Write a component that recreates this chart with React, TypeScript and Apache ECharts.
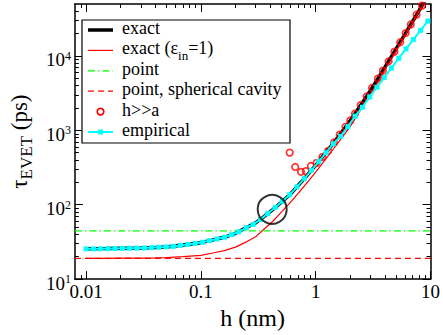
import React, { useEffect, useRef } from 'react';
import * as echarts from 'echarts';

// h (nm) grid of the smooth curves
const hCurve = [0.01, 0.015, 0.02, 0.03, 0.04, 0.05, 0.07, 0.1, 0.13, 0.16, 0.2, 0.25, 0.3, 0.35, 0.42, 0.5, 0.6, 0.7, 0.8, 0.9, 1, 1.2, 1.4, 1.6, 1.8, 2, 2.5, 3, 3.5, 4, 5, 6, 7, 8, 9, 10];
// exact (black)
const tauExact = [25.5, 25.7, 25.9, 26.1, 26.6, 27.1, 28.7, 30.9, 33.9, 36.5, 41.3, 49.5, 57, 68, 85, 107, 138, 180, 226, 280, 339, 482, 649, 853, 1086, 1356, 2249, 3444, 5035, 7000, 12330, 19630, 29300, 41500, 56200, 74100];
// exact (eps_in = 1) (red, thin)
const tauExactEps1 = [19.0, 19.05, 19.1, 19.2, 19.3, 19.45, 20.0, 20.9, 22.6, 24.1, 26.9, 31.7, 37, 46, 59, 79, 107, 141, 180, 225, 275, 396, 540, 711, 906, 1127, 1959, 3069, 4487, 6531, 11670, 18840, 28380, 40550, 55000, 72400];
// point (constant)
const hPoint = [0.008, 10];
const tauPoint = [44.5, 44.5];
// point, spherical cavity (constant)
const hSphere = [0.008, 10];
const tauSphere = [19.0, 19.0];
// h >> a (red circles)
const hHa = [0.594, 0.663, 0.745, 0.82, 0.908, 1.019, 1.145, 1.284, 1.442, 1.619, 1.817, 2.0, 2.2, 2.47, 2.78, 3.1, 3.48, 3.85, 4.32, 4.85, 5.45, 6.08, 6.73, 7.56, 8.44];
const tauHa = [502, 322, 277, 283, 332, 365, 440, 530, 687, 875, 1114, 1358, 1679, 2193, 2858, 3724, 4977, 6353, 8490, 11430, 15300, 20340, 26500, 35900, 47600];
// empirical (cyan squares)
const hEmp = [0.01, 0.0116, 0.0134, 0.0155, 0.0179, 0.0207, 0.024, 0.0278, 0.0321, 0.0372, 0.043, 0.0498, 0.0576, 0.0666, 0.0771, 0.0892, 0.103, 0.119, 0.138, 0.16, 0.185, 0.214, 0.248, 0.286, 0.331, 0.383, 0.444, 0.513, 0.594, 0.687, 0.795, 0.92, 1.064, 1.231, 1.424, 1.648, 1.907, 2.206, 2.553, 2.953, 3.417, 3.954, 4.575, 5.293, 6.124, 7.086, 8.199, 9.487];
const tauEmp = [25.5, 25.5, 25.6, 25.7, 25.8, 25.9, 26.0, 26.1, 26.2, 26.5, 26.8, 27.1, 27.6, 28.4, 29.3, 30.2, 31.3, 32.9, 34.6, 36.5, 39.5, 43.3, 49.0, 54.5, 63.5, 76, 92, 111, 136, 174, 224, 290, 380, 501, 661, 832, 1122, 1549, 2042, 2818, 3802, 5129, 6918, 9333, 12450, 16600, 22130, 29510];
// highlighted point (black ring)
const markH = [0.418];
const markTau = [86.6];

// axes
const X_MIN = 0.008, X_MAX = 10, Y_MIN = 10, Y_MAX = 50000;
const xMajorTicks = [0.01, 0.1, 1, 10];
const xTickLabels = ['0.01', '0.1', '1', '10'];
const xMinorTicks = [0.009, 0.02, 0.03, 0.04, 0.05, 0.06, 0.07, 0.08, 0.09, 0.2, 0.3, 0.4, 0.5, 0.6, 0.7, 0.8, 0.9, 2, 3, 4, 5, 6, 7, 8, 9];
const yMajorTicks = [10, 100, 1000, 10000];
const yMinorTicks = [20, 30, 40, 50, 60, 70, 80, 90, 200, 300, 400, 500, 600, 700, 800, 900, 2000, 3000, 4000, 5000, 6000, 7000, 8000, 9000, 20000, 30000, 40000];

const legendNames = ['exact', 'exact (ε{sub|in}=1)', 'point', 'point, spherical cavity', 'h>>a', 'empirical'];

const FONT = 'Liberation Serif';

const zip = (a: number[], b: number[]) => a.map((v, i) => [v, b[i]]);

export default function App() {
  const ref = useRef<HTMLDivElement>(null);
  useEffect(() => {
    if (!ref.current) return;
    const chart = echarts.init(ref.current, undefined, { renderer: 'svg' });

    const mkX = (pos: 'bottom' | 'top', major: boolean, withLabels: boolean) => ({
      type: 'log', logBase: 10, min: X_MIN, max: X_MAX, position: pos, gridIndex: 0,
      axisLine: { show: major, onZero: false, lineStyle: { color: '#000', width: 1.5 } },
      axisTick: { show: true, inside: true, length: major ? 8 : 4, customValues: major ? xMajorTicks : xMinorTicks, lineStyle: { color: '#000', width: 1 } },
      axisLabel: withLabels ? {
        show: true, customValues: xMajorTicks, margin: 3, fontSize: 19, fontFamily: FONT, color: '#000',
        formatter: (v: number) => {
          let best = 0;
          xMajorTicks.forEach((t, i) => { if (Math.abs(Math.log10(t) - Math.log10(v)) < Math.abs(Math.log10(xMajorTicks[best]) - Math.log10(v))) best = i; });
          return xTickLabels[best];
        },
      } : { show: false },
      splitLine: { show: false },
      minorTick: { show: false },
      ...(withLabels ? { name: 'h (nm)', nameLocation: 'middle', nameGap: 20, nameTextStyle: { fontSize: 24, fontFamily: FONT, color: '#000' } } : {}),
    });

    const mkY = (pos: 'left' | 'right', major: boolean, withLabels: boolean) => ({
      type: 'log', logBase: 10, min: Y_MIN, max: Y_MAX, position: pos, gridIndex: 0,
      axisLine: { show: major, onZero: false, lineStyle: { color: '#000', width: 1.5 } },
      axisTick: { show: true, inside: true, length: major ? 8 : 4, customValues: major ? yMajorTicks : yMinorTicks, lineStyle: { color: '#000', width: 1 } },
      axisLabel: withLabels ? {
        show: true, customValues: yMajorTicks, margin: 4, fontSize: 19, fontFamily: FONT, color: '#000',
        formatter: (v: number) => `{b|10}{s|${Math.round(Math.log10(v))}}`,
        rich: {
          b: { fontSize: 19, fontFamily: FONT, color: '#000', padding: [8, 0, 0, 0] },
          s: { fontSize: 12, fontFamily: FONT, color: '#000' },
        },
      } : { show: false },
      splitLine: { show: false },
      minorTick: { show: false },
      ...(withLabels ? {
        name: '{t|τ}{sub|EVET}{t| (ps)}', nameLocation: 'middle', nameGap: 31,
        nameTextStyle: {
          fontSize: 23, fontFamily: FONT, color: '#000',
          rich: {
            t: { fontSize: 23, fontFamily: FONT, color: '#000' },
            sub: { fontSize: 17, fontFamily: FONT, color: '#000', padding: [14, 0, 0, 0] },
          },
        },
      } : {}),
    });

    const rowY = (i: number) => 30 + i * 20.4;
    const lx1 = 88, lx2 = 113, tx = 122;
    const legendGraphics: any[] = [
      { type: 'rect', z: 100, shape: { x: 82, y: 20, width: 208, height: 123 }, style: { fill: '#fff', stroke: '#000', lineWidth: 1.2 } },
      { type: 'line', z: 101, shape: { x1: lx1, y1: rowY(0), x2: lx2, y2: rowY(0) }, style: { stroke: '#000', lineWidth: 3.5 } },
      { type: 'line', z: 101, shape: { x1: lx1, y1: rowY(1), x2: lx2, y2: rowY(1) }, style: { stroke: '#ff0000', lineWidth: 1.2 } },
      { type: 'line', z: 101, shape: { x1: lx1, y1: rowY(2), x2: lx2, y2: rowY(2) }, style: { stroke: '#00ff00', lineWidth: 1.2, lineDash: [7, 3, 1.5, 3] } },
      { type: 'line', z: 101, shape: { x1: lx1, y1: rowY(3), x2: lx2, y2: rowY(3) }, style: { stroke: '#ff0000', lineWidth: 1.2, lineDash: [6, 4] } },
      { type: 'circle', z: 101, shape: { cx: 100.5, cy: rowY(4), r: 3.3 }, style: { fill: 'none', stroke: '#ff0000', lineWidth: 1.7 } },
      { type: 'line', z: 101, shape: { x1: lx1, y1: rowY(5), x2: lx2, y2: rowY(5) }, style: { stroke: '#00ffff', lineWidth: 2 } },
      { type: 'rect', z: 102, shape: { x: 98, y: rowY(5) - 2.5, width: 5, height: 5 }, style: { fill: '#00ffff' } },
    ];
    legendNames.forEach((name, i) => {
      const style: any = { text: name, fontSize: 18, fontFamily: FONT, fill: '#000', verticalAlign: 'middle', align: 'left' };
      if (name.indexOf('{') >= 0) {
        style.rich = { sub: { fontSize: 13, fontFamily: FONT, fill: '#000', padding: [14, 0, 0, 0] } };
      }
      legendGraphics.push({ type: 'text', z: 103, x: tx, y: rowY(i) - 2, style });
    });

    chart.setOption({
      animation: false,
      backgroundColor: '#fff',
      grid: { left: 62, right: 11, top: 4, bottom: 44, containLabel: false },
      xAxis: [mkX('bottom', true, true), mkX('bottom', false, false), mkX('top', true, false), mkX('top', false, false)],
      yAxis: [mkY('left', true, true), mkY('left', false, false), mkY('right', true, false), mkY('right', false, false)],
      series: [
        { name: 'exact', type: 'line', data: zip(hCurve, tauExact), symbol: 'none', lineStyle: { color: '#000', width: 3.5 }, z: 2 },
        { name: 'exact (ε_in=1)', type: 'line', data: zip(hCurve, tauExactEps1), symbol: 'none', lineStyle: { color: '#ff0000', width: 1.2 }, z: 3 },
        { name: 'point', type: 'line', data: zip(hPoint, tauPoint), symbol: 'none', lineStyle: { color: '#00ff00', width: 1.2, type: [7, 3, 1.5, 3] }, z: 3 },
        { name: 'point, spherical cavity', type: 'line', data: zip(hSphere, tauSphere), symbol: 'none', lineStyle: { color: '#ff0000', width: 1.2, type: [6, 4] }, z: 3 },
        { name: 'h>>a', type: 'scatter', data: zip(hHa, tauHa), symbol: 'circle', symbolSize: 6.5, itemStyle: { color: 'rgba(0,0,0,0)', borderColor: '#ff0000', borderWidth: 1.7 }, z: 4 },
        { name: 'empirical', type: 'line', data: zip(hEmp, tauEmp), symbol: 'rect', symbolSize: 5, showSymbol: true, showAllSymbol: true, itemStyle: { color: '#00ffff' }, lineStyle: { color: '#00ffff', width: 2 }, z: 5 },
        { name: 'mark', type: 'scatter', data: zip(markH, markTau), symbol: 'circle', symbolSize: 29, silent: true, itemStyle: { color: 'rgba(0,0,0,0)', borderColor: '#000', borderWidth: 2 }, z: 6 },
      ],
      graphic: legendGraphics,
    } as any);
    return () => chart.dispose();
  }, []);
  return (
    <div style={{ position: 'fixed', left: 0, top: 0, width: 443, height: 335, background: '#fff' }}>
      <div ref={ref} style={{ width: 443, height: 335 }} />
    </div>
  );
}
